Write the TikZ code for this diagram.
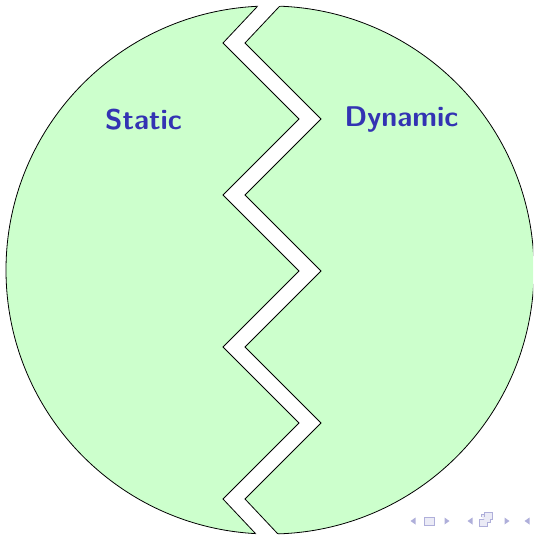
\documentclass[tikz,border=0pt]{standalone}
\usepackage{tikz}
\definecolor{fillgreen}{RGB}{204,255,204}
\definecolor{structblue}{RGB}{51,51,179}
\definecolor{navcol}{RGB}{175,175,218}
\tikzset{
  edgeline/.style={draw=black, line width=0.8pt, line join=miter},
  label/.style={text=structblue, font=\sffamily\bfseries\fontsize{28.5}{31}\selectfont, anchor=base, inner sep=0pt},
  navtri/.style={fill=navcol, draw=none},
  navbox/.style={draw=navcol, fill=navcol!25, line width=0.8pt}
}
\begin{document}
\begin{tikzpicture}[x=1pt,y=-1pt]
\useasboundingbox (0,0) rectangle (533,535);
\clip (0,0) rectangle (533,535);
% circle
\fill[fillgreen] (270,270) circle[radius=264];
\draw[line width=0.8pt] (270,270) circle[radius=264];
% white zigzag band
\fill[white] (271,-8) -- (223,43) -- (299,119) -- (223,195) -- (299,271) -- (223,347) -- (299,423) -- (223,499) -- (271,550)
  -- (293,550) -- (245,499) -- (321,423) -- (245,347) -- (321,271) -- (245,195) -- (321,119) -- (245,43) -- (293,-8) -- cycle;
\begin{scope}
\clip (270,270) circle[radius=264];
\draw[edgeline] (271,-8) -- (223,43) -- (299,119) -- (223,195) -- (299,271) -- (223,347) -- (299,423) -- (223,499) -- (271,550);
\draw[edgeline] (293,-8) -- (245,43) -- (321,119) -- (245,195) -- (321,271) -- (245,347) -- (321,423) -- (245,499) -- (293,550);
\end{scope}
% labels
\node[label] (static) at (143.5,129) {Static};
\node[label] (dynamic) at (401.5,126) {Dynamic};
% navigation symbols
\fill[navtri] (410.5,521) -- (415.5,517.5) -- (415.5,524.5) -- cycle;
\draw[navbox] (424.5,517.5) rectangle (434.5,525);
\fill[navtri] (449.5,521) -- (444.5,517.5) -- (444.5,524.5) -- cycle;
\fill[navtri] (467.5,521) -- (472.5,517.5) -- (472.5,524.5) -- cycle;
\draw[navbox] (479,519.5) rectangle (487,526.5);
\draw[navbox] (481.5,517) -- (481.5,514.5) -- (490,514.5) -- (490,522) -- (487,522);
\draw[navbox] (484,517) -- (484,512.5) -- (492,512.5) -- (492,519.5) -- (490,519.5);
\fill[navtri] (509.5,521) -- (504.5,517.5) -- (504.5,524.5) -- cycle;
\fill[navtri] (524.5,521) -- (529.5,517.5) -- (529.5,524.5) -- cycle;
\end{tikzpicture}
\end{document}
